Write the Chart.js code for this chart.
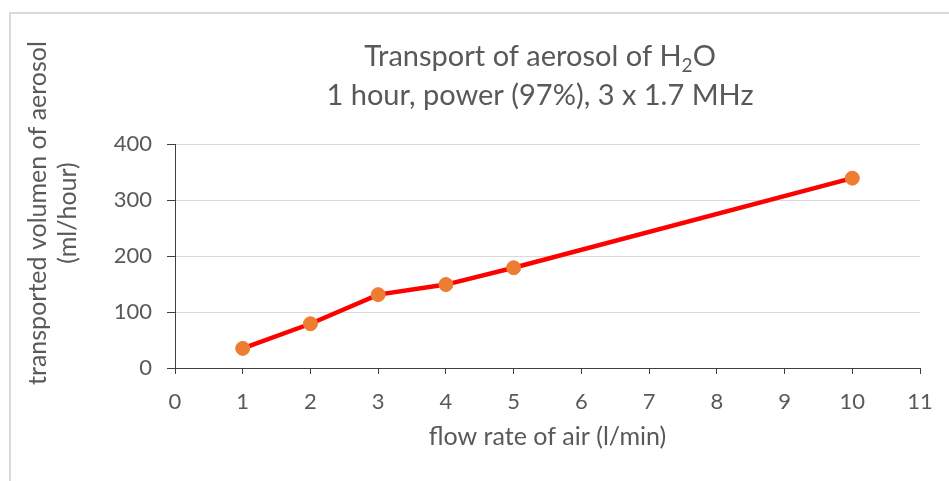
<!DOCTYPE html>
<html>
<head>
<meta charset="utf-8">
<script src="https://cdn.jsdelivr.net/npm/chart.js@4.4.0/dist/chart.umd.min.js"></script>
<style>
  html, body { margin: 0; padding: 0; background: #fff; }
  #wrap { position: relative; width: 949px; height: 481px; }
</style>
</head>
<body>
<div id="wrap"><canvas id="chart"></canvas></div>
<script>
// データ
const flowRates = [1, 2, 3, 4, 5, 10];
const volumes = [35, 79, 131, 149, 179, 339];
const xTickValues = [0, 1, 2, 3, 4, 5, 6, 7, 8, 9, 10, 11];
const yTickValues = [0, 100, 200, 300, 400];

// テキスト
const titleLine1 = ['Transport of aerosol of H', '2', 'O'];
const titleLine2 = '1 hour, power (97%), 3 x 1.7 MHz';
const yTitleLines = ['transported volumen of aerosol', '(ml/hour)'];
const xTitle = 'flow rate of air (l/min)';

const FONT = 'Lato, "Open Sans", sans-serif';
const TEXT_COLOR = '#595959';
const AXIS_COLOR = '#404040';

// 枠線・タイトル・縦軸タイトル
const decorPlugin = {
    id: 'decor',
    beforeDraw(chart) {
        const ctx = chart.ctx;
        ctx.save();
        ctx.fillStyle = '#fff';
        ctx.fillRect(0, 0, chart.width, chart.height);
        ctx.strokeStyle = '#d9d9d9';
        ctx.lineWidth = 2;
        ctx.beginPath();
        ctx.moveTo(10, chart.height);
        ctx.lineTo(10, 13);
        ctx.lineTo(chart.width, 13);
        ctx.stroke();
        ctx.restore();
    },
    afterDraw(chart) {
        const ctx = chart.ctx;
        ctx.save();
        ctx.fillStyle = TEXT_COLOR;
        ctx.textBaseline = 'middle';

        // タイトル1行目（H2Oの下付き文字）
        const big = '29px ' + FONT;
        const small = '19px ' + FONT;
        ctx.font = big;
        const w0 = ctx.measureText(titleLine1[0]).width;
        const w2 = ctx.measureText(titleLine1[2]).width;
        ctx.font = small;
        const w1 = ctx.measureText(titleLine1[1]).width;
        const cx = 540;
        let x = cx - (w0 + w1 + w2) / 2;
        ctx.textAlign = 'left';
        ctx.font = big;
        ctx.fillText(titleLine1[0], x, 57);
        x += w0;
        ctx.font = small;
        ctx.fillText(titleLine1[1], x, 66);
        x += w1;
        ctx.font = big;
        ctx.fillText(titleLine1[2], x, 57);

        // タイトル2行目
        ctx.textAlign = 'center';
        ctx.fillText(titleLine2, cx, 96);

        // 縦軸タイトル
        ctx.font = '25px ' + FONT;
        ctx.translate(0, 213);
        ctx.rotate(-Math.PI / 2);
        ctx.fillText(yTitleLines[0], 0, 38);
        ctx.fillText(yTitleLines[1], 0, 68);
        ctx.restore();
    }
};

const ctx = document.getElementById('chart').getContext('2d');
new Chart(ctx, {
    type: 'line',
    data: {
        datasets: [{
            data: flowRates.map((f, i) => ({ x: f, y: volumes[i] })),
            borderColor: '#ff0000',
            borderWidth: 4.5,
            pointBackgroundColor: '#ed7d31',
            pointBorderColor: '#ed7d31',
            pointBorderWidth: 1,
            pointRadius: 7,
            tension: 0,
            fill: false,
        }],
    },
    options: {
        responsive: true,
        maintainAspectRatio: false,
        animation: false,
        layout: {
            padding: { left: 0, right: 29, top: 144, bottom: 0 },
        },
        plugins: {
            legend: { display: false },
            title: { display: false },
            tooltip: { enabled: false },
        },
        scales: {
            x: {
                type: 'linear',
                min: 0,
                max: 11,
                afterBuildTicks(scale) {
                    scale.ticks = xTickValues.map(v => ({ value: v }));
                },
                afterFit(scale) {
                    scale.height = 113;
                },
                grid: {
                    drawOnChartArea: false,
                    drawTicks: true,
                    tickLength: 6,
                    tickColor: AXIS_COLOR,
                },
                border: { color: AXIS_COLOR, width: 1 },
                ticks: {
                    padding: 15,
                    color: TEXT_COLOR,
                    font: { size: 22, family: FONT },
                },
                title: {
                    display: true,
                    text: xTitle,
                    color: TEXT_COLOR,
                    font: { size: 25, family: FONT },
                    padding: { top: 0, bottom: 29 },
                },
            },
            y: {
                min: 0,
                max: 400,
                afterBuildTicks(scale) {
                    scale.ticks = yTickValues.map(v => ({ value: v }));
                },
                afterFit(scale) {
                    scale.width = 175;
                },
                grid: {
                    color: '#d9d9d9',
                    tickColor: AXIS_COLOR,
                    tickLength: 8,
                },
                border: { color: AXIS_COLOR, width: 1 },
                ticks: {
                    padding: 15,
                    color: TEXT_COLOR,
                    font: { size: 22, family: FONT },
                },
            },
        },
    },
    plugins: [decorPlugin],
});
</script>
</body>
</html>
